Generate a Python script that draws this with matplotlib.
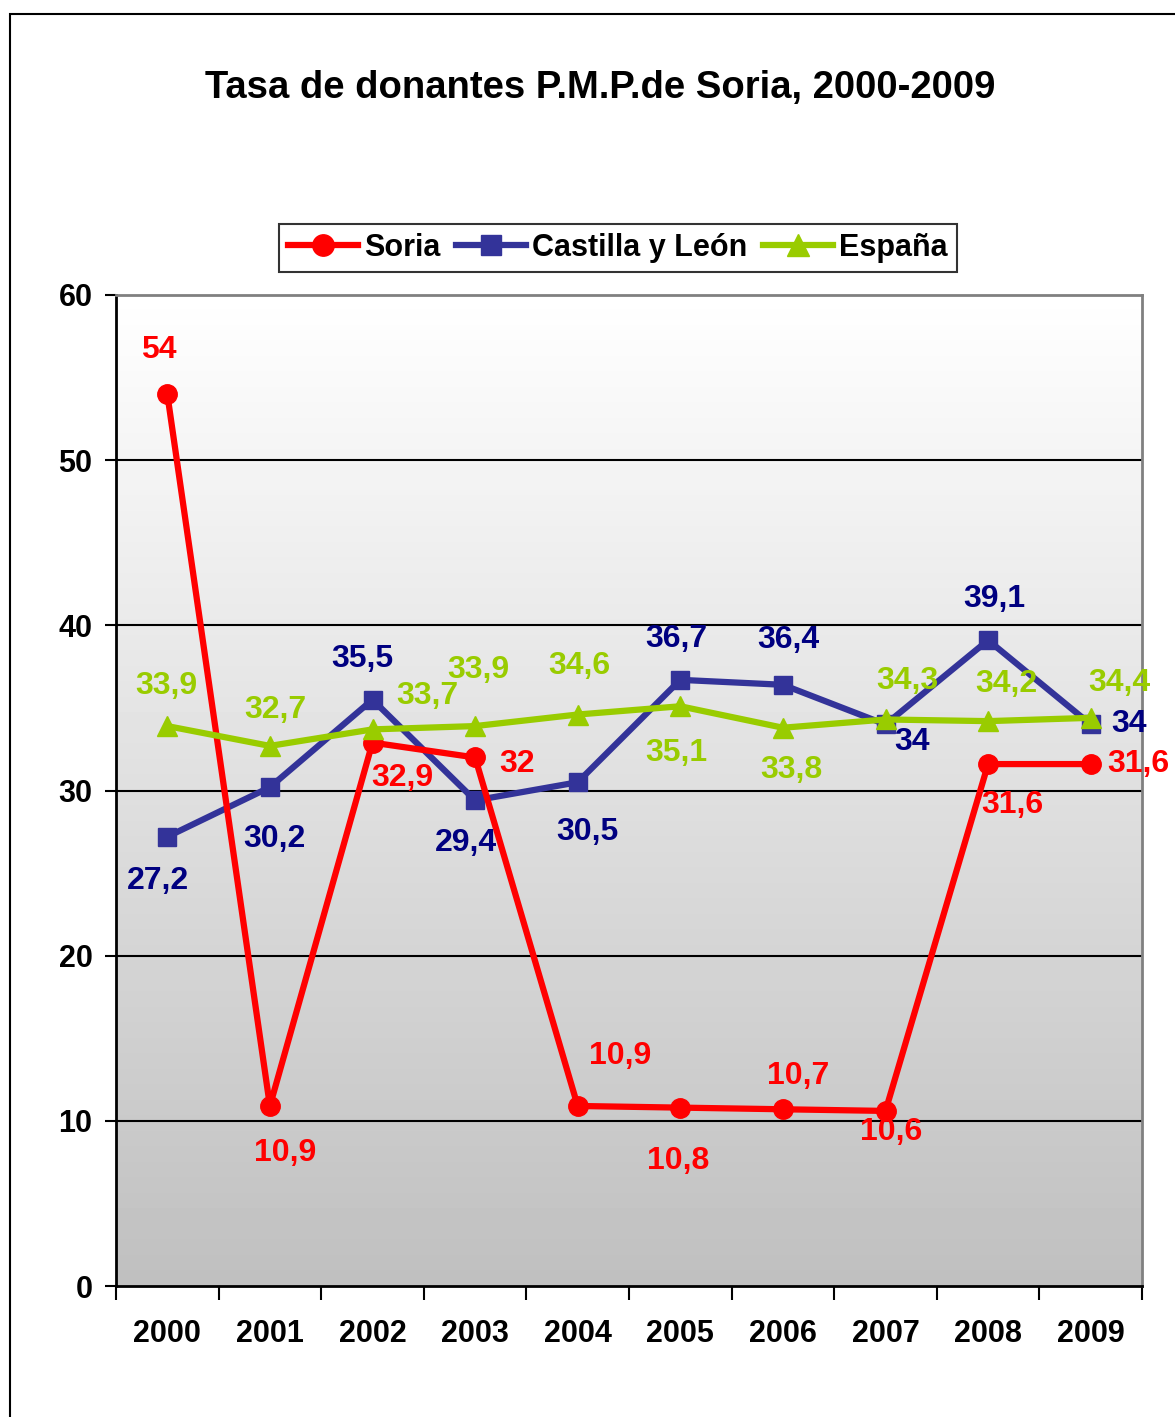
import numpy as np
import matplotlib.pyplot as plt
from matplotlib.patches import Rectangle

plt.rcParams['font.family'] = ['Liberation Sans', 'DejaVu Sans']
plt.rcParams['font.weight'] = 'bold'

years = ['2000', '2001', '2002', '2003', '2004', '2005', '2006', '2007', '2008', '2009']
soria = [54, 10.9, 32.9, 32, 10.9, 10.8, 10.7, 10.6, 31.6, 31.6]
cyl = [27.2, 30.2, 35.5, 29.4, 30.5, 36.7, 36.4, 34, 39.1, 34]
espana = [33.9, 32.7, 33.7, 33.9, 34.6, 35.1, 33.8, 34.3, 34.2, 34.4]

# label offsets in pixels (dx, dy), dy positive = up
soria_off = [(-9, 44), (15, -47), (30, -35), (42, -7), (42, 50), (-2, -53),
             (15, 33), (6, -21), (24, -41), (48, 0)]
cyl_off = [(-9, -44), (5, -52), (-10, 41), (-9, -43), (10, -50), (-4, 41),
           (5, 45), (27, -18), (6, 41), (38, 0)]
esp_off = [(-1, 40), (5, 36), (55, 33), (3, 56), (2, 49), (-4, -47),
           (9, -42), (22, 38), (18, 37), (29, 35)]

W, H = 1175, 1417
fig = plt.figure(figsize=(W / 100, H / 100), dpi=100)
fig.patches.append(Rectangle((10 / W, -0.1), 1.2, 1 - 14 / H + 0.1, transform=fig.transFigure,
                             fill=False, edgecolor='black', linewidth=1.5))

ax = fig.add_axes([116 / W, 1 - 1286 / H, (1142 - 116) / W, (1286 - 295) / H])

x = np.arange(len(years))
ax.set_xlim(-0.5, len(years) - 0.5)
ax.set_ylim(0, 60)

grad = np.linspace(1.0, 0.75, 256).reshape(-1, 1)
ax.imshow(grad, cmap='gray', vmin=0, vmax=1, aspect='auto',
          extent=(-0.5, len(years) - 0.5, 0, 60), origin='upper', zorder=0)

for v in [10, 20, 30, 40, 50]:
    ax.axhline(v, color='black', linewidth=1.5, zorder=1)

ax.plot(x, cyl, color='#333399', linewidth=4.5, marker='s', markersize=13, zorder=3,
        label='Castilla y León')
ax.plot(x, soria, color='#FF0000', linewidth=4.5, marker='o', markersize=14, zorder=4,
        label='Soria')
ax.plot(x, espana, color='#99CC00', linewidth=4.5, marker='^', markersize=14, zorder=5,
        label='España')

def put_labels(vals, offs, color):
    for i, (v, o) in enumerate(zip(vals, offs)):
        ax.annotate(f'{v:g}'.replace('.', ','), (x[i], v), xytext=o, textcoords='offset pixels',
                    ha='center', va='center', color=color, fontsize=23, fontweight='bold',
                    zorder=6, annotation_clip=False)

put_labels(soria, soria_off, '#FF0000')
put_labels(cyl, cyl_off, '#000080')
put_labels(espana, esp_off, '#99CC00')

for s in ['top', 'right']:
    ax.spines[s].set_color('#808080')
    ax.spines[s].set_linewidth(2)
for s in ['left', 'bottom']:
    ax.spines[s].set_color('black')
    ax.spines[s].set_linewidth(2)

ax.set_yticks([0, 10, 20, 30, 40, 50, 60])
ax.tick_params(axis='y', length=8, width=1.5, pad=9, labelsize=22)
ax.set_xticks(np.arange(len(years) + 1) - 0.5)
ax.set_xticklabels([])
ax.tick_params(axis='x', which='major', length=10, width=1.5)
ax.set_xticks(x, minor=True)
ax.set_xticklabels(years, minor=True, fontsize=22, fontweight='bold')
ax.tick_params(axis='x', which='minor', length=0, pad=24)
for t in ax.get_yticklabels():
    t.set_fontweight('bold')

handles, labels = ax.get_legend_handles_labels()
order = [1, 0, 2]
leg = fig.legend([handles[i] for i in order], [labels[i] for i in order],
                 loc='center', bbox_to_anchor=(618 / W, 1 - 248 / H), ncol=3,
                 frameon=True, fancybox=False, edgecolor='black', fontsize=22,
                 handlelength=2.3, handletextpad=0.2, columnspacing=0.5,
                 borderpad=0.3, markerscale=1.1)
leg.get_frame().set_linewidth(1.5)
for t in leg.get_texts():
    t.set_fontweight('bold')

fig.text(600 / W, 1 - 88 / H, 'Tasa de donantes P.M.P.de Soria, 2000-2009',
         ha='center', va='center', fontsize=27.5, fontweight='bold')

fig.savefig('out.png', dpi=100)
